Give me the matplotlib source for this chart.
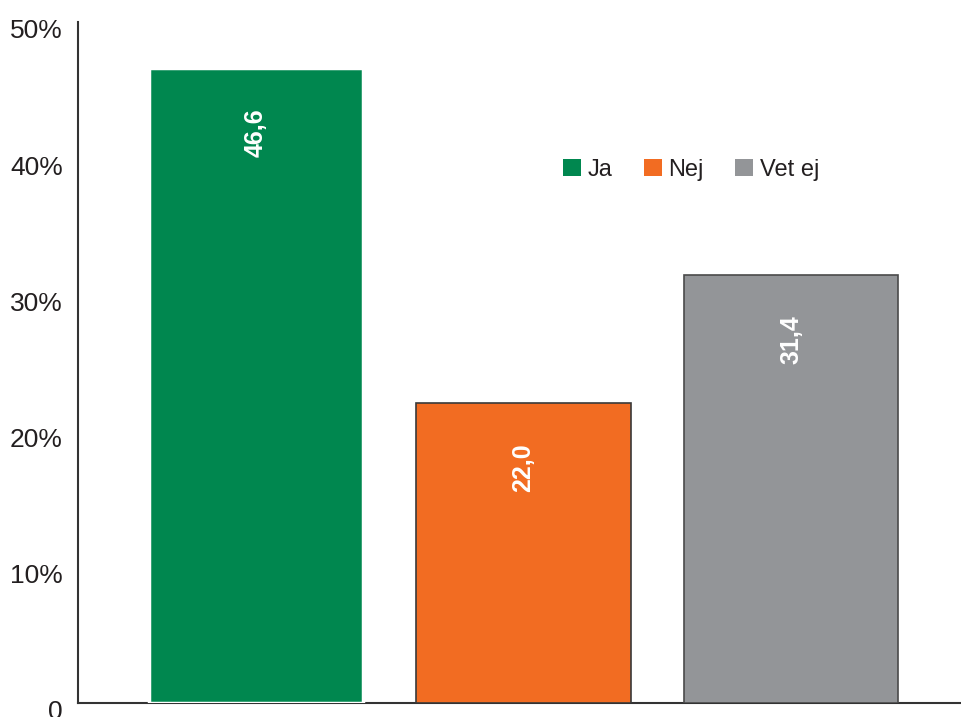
import matplotlib.pyplot as plt
import matplotlib.transforms as mtransforms
from matplotlib.patches import Patch

# survey answers, percent
answers = ['Ja', 'Nej', 'Vet ej']
shares = [46.6, 22.0, 31.4]
value_labels = ['46,6', '22,0', '31,4']
bar_colors = ['#00874f', '#f26c22', '#939598']
edge_colors = ['white', '#3a3a3a', '#4a4a4a']
y_ticks = [0, 10, 20, 30, 40, 50]
y_tick_labels = ['0', '10%', '20%', '30%', '40%', '50%']

plt.rcParams['font.family'] = ['Liberation Sans', 'DejaVu Sans']
text_color = '#231f20'

fig = plt.figure(figsize=(9.61, 7.17), dpi=100)
ax = fig.add_axes([78 / 961, 14 / 717, 1 - 78 / 961, (703 - 22) / 717])

xs = list(range(len(answers)))
bars = ax.bar(xs, shares, width=0.80, color=bar_colors, edgecolor=edge_colors,
              linewidth=[2.5, 1.2, 1.2], zorder=3)

# values written vertically inside the bars, near the top
for x, v, lab in zip(xs, shares, value_labels):
    ax.annotate(lab, xy=(x, v), xytext=(0, -29), textcoords='offset points',
                rotation=90, ha='center', va='top', color='white',
                fontsize=18, fontweight='bold', zorder=4)

ax.set_xlim(-0.665, 2.635)
ax.set_ylim(0, 50)
ax.set_xticks([])
ax.set_yticks(y_ticks)
ax.set_yticklabels(y_tick_labels, fontsize=19, color=text_color)
ax.tick_params(axis='y', length=0, pad=11)

# labels sit a little below their gridline positions
shift = mtransforms.ScaledTranslation(0, -5 / 72, fig.dpi_scale_trans)
for t in ax.get_yticklabels():
    t.set_transform(t.get_transform() + shift)

for side in ['top', 'right']:
    ax.spines[side].set_visible(False)
for side in ['left', 'bottom']:
    ax.spines[side].set_color('#333333')
    ax.spines[side].set_linewidth(1.5)

handles = [Patch(facecolor=c, edgecolor='none') for c in bar_colors]
ax.legend(handles, answers, loc='center left',
          bbox_to_anchor=(563 / 961, 1 - 170 / 717), bbox_transform=fig.transFigure,
          ncol=3, frameon=False, fontsize=17, handlelength=0.76, handleheight=0.76,
          handletextpad=0.3, columnspacing=1.3, borderpad=0, borderaxespad=0,
          labelcolor=text_color)

fig.savefig('out.png', dpi=100)
